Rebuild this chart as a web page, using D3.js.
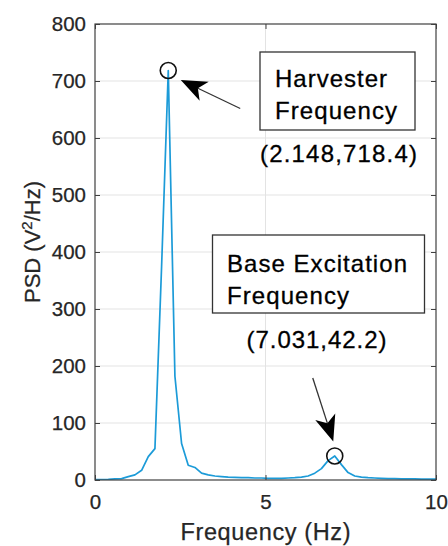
<!DOCTYPE html>
<html>
<head>
<meta charset="utf-8">
<script src="https://cdn.jsdelivr.net/npm/d3@7/dist/d3.min.js"></script>
<style>
  html, body { margin: 0; padding: 0; background: #fff; }
  svg { display: block; }
  text { font-family: "Liberation Sans", Arial, sans-serif; }
</style>
</head>
<body>
<svg id="chart" width="448" height="546"></svg>
<script>
// ---------- data ----------
const freqStep = 10 / 51.2; // Hz per bin
const psdValues = [
  0.5, 0.5, 1, 2, 2.5, 6, 9, 17, 41, 55,
  375, 718.4, 182, 64, 26, 22, 12, 9, 7, 6,
  5, 4.5, 4, 4, 3.5, 3.5, 3, 3, 3, 3.5,
  4, 5, 7, 12, 20, 34, 42.2, 27, 13, 7,
  5, 4, 3.5, 3, 2.5, 2.5, 2, 2, 2, 1.5,
  1.5, 1.5, 1.5
];
const xTicks = [0, 5, 10];
const yTicks = [0, 100, 200, 300, 400, 500, 600, 700, 800];
const peaks = [
  { f: 2.148, v: 718.4, label: "(2.148,718.4)" },
  { f: 7.031, v: 42.2, label: "(7.031,42.2)" }
];
const xLabel = "Frequency (Hz)";

// ---------- layout ----------
const svg = d3.select("#chart");
const L = 95, R = 436, T = 24, B = 480;
const x = d3.scaleLinear().domain([0, 10]).range([L, R]);
const y = d3.scaleLinear().domain([0, 800]).range([B, T]);
const axisColor = "#404040";
const tickColor = "#262626";

// grid
const grid = svg.append("g");
grid.selectAll("line.gy").data(yTicks.filter(d => d > 0 && d < 800)).join("line")
  .attr("x1", L).attr("x2", R).attr("y1", d => y(d)).attr("y2", d => y(d))
  .attr("stroke", "#e3e3e3").attr("stroke-width", 1);
grid.selectAll("line.gx").data(xTicks.filter(d => d > 0 && d < 10)).join("line")
  .attr("y1", T).attr("y2", B).attr("x1", d => x(d)).attr("x2", d => x(d))
  .attr("stroke", "#e3e3e3").attr("stroke-width", 1);

// curve
svg.append("clipPath").attr("id", "clip").append("rect")
  .attr("x", L).attr("y", T - 2).attr("width", R - L).attr("height", B - T + 2);
const line = d3.line().x((d, i) => x(i * freqStep)).y(d => y(d));
svg.append("path").datum(psdValues)
  .attr("clip-path", "url(#clip)")
  .attr("d", line).attr("fill", "none")
  .attr("stroke", "#1c9bd8").attr("stroke-width", 1.7)
  .attr("stroke-linejoin", "round");

// axes
function styleAxis(g) {
  g.select(".domain").remove();
  g.selectAll(".tick line").attr("stroke", axisColor);
  g.selectAll(".tick text").attr("fill", tickColor)
    .attr("stroke", tickColor).attr("stroke-width", 0.25)
    .style("font-family", "'Liberation Sans', Arial, sans-serif")
    .style("font-size", "20.5px");
}
svg.append("g").attr("transform", `translate(${L},0)`)
  .call(d3.axisLeft(y).tickValues(yTicks).tickSize(-5).tickPadding(9)).call(styleAxis);
svg.append("g").attr("transform", `translate(${R},0)`)
  .call(d3.axisRight(y).tickValues(yTicks).tickSize(-5).tickFormat("")).call(styleAxis);
svg.append("g").attr("transform", `translate(0,${B})`)
  .call(d3.axisBottom(x).tickValues(xTicks).tickSize(-5).tickPadding(14)).call(styleAxis);
svg.append("g").attr("transform", `translate(0,${T})`)
  .call(d3.axisTop(x).tickValues(xTicks).tickSize(-5).tickFormat("")).call(styleAxis);

// box
svg.append("rect").attr("x", L).attr("y", T).attr("width", R - L).attr("height", B - T)
  .attr("fill", "none").attr("stroke", axisColor).attr("stroke-width", 1.2);

// axis labels
svg.append("text").attr("x", (L + R) / 2).attr("y", 540)
  .attr("text-anchor", "middle").attr("fill", tickColor)
  .attr("stroke", tickColor).attr("stroke-width", 0.25)
  .style("font-size", "23.5px").attr("textLength", 170).attr("lengthAdjust", "spacing")
  .text(xLabel);
const yl = svg.append("text").attr("transform", "translate(40,242) rotate(-90)")
  .attr("text-anchor", "middle").attr("fill", tickColor)
  .attr("stroke", tickColor).attr("stroke-width", 0.25).style("font-size", "22px");
yl.append("tspan").text("PSD (V");
yl.append("tspan").attr("dy", -8).style("font-size", "15px").text("2");
yl.append("tspan").attr("dy", 8).text("/Hz)");

// peak markers
svg.selectAll("circle.pk").data(peaks).join("circle")
  .attr("cx", d => x(d.f)).attr("cy", d => y(d.v)).attr("r", 8)
  .attr("fill", "none").attr("stroke", "#111").attr("stroke-width", 1.6);

// arrows
function arrow(tail, tip, len, halfW, notch) {
  const dx = tail[0] - tip[0], dy = tail[1] - tip[1];
  const d = Math.hypot(dx, dy);
  const ux = dx / d, uy = dy / d, nx = -uy, ny = ux;
  svg.append("line").attr("x1", tail[0]).attr("y1", tail[1])
    .attr("x2", tip[0] + ux * (len - notch)).attr("y2", tip[1] + uy * (len - notch))
    .attr("stroke", "#333").attr("stroke-width", 1.3);
  const pts = [
    tip,
    [tip[0] + ux * len + nx * halfW, tip[1] + uy * len + ny * halfW],
    [tip[0] + ux * (len - notch), tip[1] + uy * (len - notch)],
    [tip[0] + ux * len - nx * halfW, tip[1] + uy * len - ny * halfW]
  ];
  svg.append("path").attr("d", "M" + pts.map(p => p.join(",")).join("L") + "Z")
    .attr("fill", "#000");
}
const p0 = [x(peaks[0].f), y(peaks[0].v)];
const p1 = [x(peaks[1].f), y(peaks[1].v)];
arrow([p0[0] + 72, p0[1] + 38], [p0[0] + 12.5, p0[1] + 9.5], 26, 10.5, 7);
arrow([p1[0] - 22, p1[1] - 78], [p1[0] - 1.5, p1[1] - 14.5], 26, 10.5, 7);

// annotation boxes
const ann = svg.append("g").attr("fill", "#000")
  .attr("stroke", "#000").attr("stroke-width", 0.3).style("font-size", "24px");
function box(bx, by, bw, bh) {
  svg.append("rect").attr("x", bx).attr("y", by).attr("width", bw).attr("height", bh)
    .attr("fill", "#fff").attr("stroke", "#333").attr("stroke-width", 1.3);
}
function txt(tx, ty, s, len) {
  ann.append("text").attr("x", tx).attr("y", ty).attr("textLength", len)
    .attr("lengthAdjust", "spacing").text(s);
}
box(260, 52, 155, 78);
box(212.5, 235, 212, 78);
ann.raise();
txt(275, 87, "Harvester", 112);
txt(275, 119, "Frequency", 122);
txt(260, 162, peaks[0].label, 157);
txt(227, 272, "Base Excitation", 180);
txt(227, 304, "Frequency", 122);
txt(246.5, 348, peaks[1].label, 140);
</script>
</body>
</html>
